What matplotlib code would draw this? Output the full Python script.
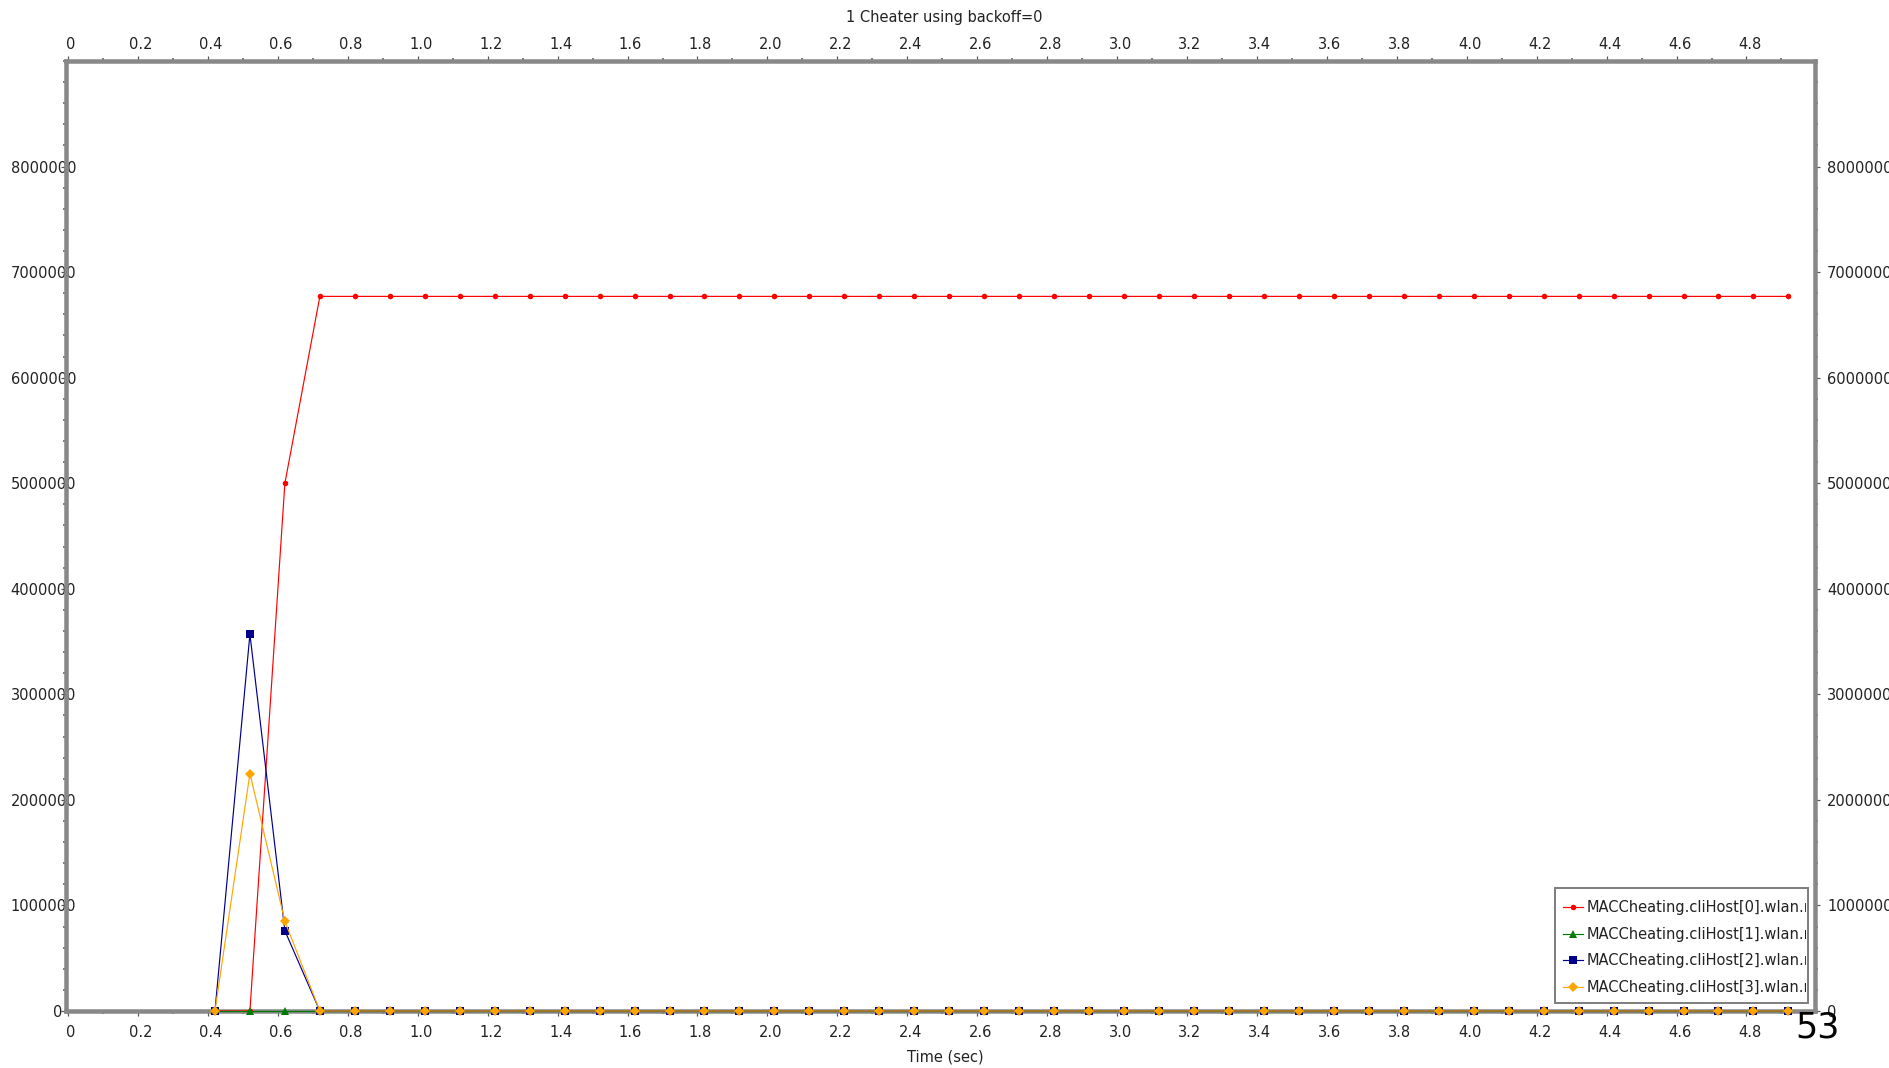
import matplotlib
matplotlib.use('Agg')
import matplotlib.pyplot as plt
from matplotlib.patches import Rectangle
from matplotlib.ticker import MultipleLocator, FixedLocator
from matplotlib.transforms import Bbox, TransformedBbox, ScaledTranslation

TITLE = '1 Cheater using backoff=0'
XLABEL = 'Time (sec)'

# sample times (sec)
TIMES = [
    0.42, 0.52, 0.62, 0.72, 0.82, 0.92, 1.02, 1.12, 1.22, 1.32,
    1.42, 1.52, 1.62, 1.72, 1.82, 1.92, 2.02, 2.12, 2.22, 2.32,
    2.42, 2.52, 2.62, 2.72, 2.82, 2.92, 3.02, 3.12, 3.22, 3.32,
    3.42, 3.52, 3.62, 3.72, 3.82, 3.92, 4.02, 4.12, 4.22, 4.32,
    4.42, 4.52, 4.62, 4.72, 4.82, 4.92,
]
HOST0 = [0, 0, 5000000] + [6770000] * 43
HOST1 = [0] * 46
HOST2 = [0, 3570000, 760000] + [0] * 43
HOST3 = [0, 2250000, 850000] + [0] * 43

LABELS = [
    'MACCheating.cliHost[0].wlan.mac',
    'MACCheating.cliHost[1].wlan.mac',
    'MACCheating.cliHost[2].wlan.mac',
    'MACCheating.cliHost[3].wlan.mac',
]
X_TICKS = [0, 0.2, 0.4, 0.6, 0.8, 1.0, 1.2, 1.4, 1.6, 1.8, 2.0, 2.2, 2.4,
           2.6, 2.8, 3.0, 3.2, 3.4, 3.6, 3.8, 4.0, 4.2, 4.4, 4.6, 4.8]
X_TICKLABELS = ['0'] + [f'{v:.1f}' for v in X_TICKS[1:]]
Y_TICKS = [0, 1000000, 2000000, 3000000, 4000000,
           5000000, 6000000, 7000000, 8000000]
Y_TICKLABELS = [str(v) for v in Y_TICKS]

STYLES = [
    ('#ff0000', 'o', 4.0),
    ('#007a00', '^', 5.8),
    ('#00008c', 's', 5.4),
    ('#ffa500', 'D', 4.8),
]

W, H = 1889, 1068
DPI = 100
FS = 10.5
SPINE = '#888888'


def px(v):
    # pixels -> points
    return v * 72 / DPI


def shift(fig, dx, dy):
    return ScaledTranslation(dx / DPI, dy / DPI, fig.dpi_scale_trans)


def main():
    fig = plt.figure(figsize=(W / DPI, H / DPI), dpi=DPI)
    ax = fig.add_axes([66 / W, 57 / H, (1815 - 66) / W, (1011 - 61) / H])

    series = [HOST0, HOST1, HOST2, HOST3]
    lines = []
    for vals, lab, (col, mk, ms) in zip(series, LABELS, STYLES):
        ln, = ax.plot(TIMES, vals, color=col, lw=0.85, marker=mk,
                      markersize=ms, markeredgewidth=0, label=lab,
                      clip_on=False, zorder=3)
        lines.append(ln)

    ax.set_xlim(-0.006, 4.996)
    ax.set_ylim(0, 9000000)

    ax.xaxis.set_major_locator(FixedLocator(X_TICKS))
    ax.set_xticklabels(X_TICKLABELS)
    ax.xaxis.set_minor_locator(MultipleLocator(0.1))
    ax.yaxis.set_major_locator(FixedLocator(Y_TICKS))
    ax.set_yticklabels(Y_TICKLABELS)
    ax.yaxis.set_minor_locator(MultipleLocator(200000))

    for sp in ax.spines.values():
        sp.set_color(SPINE)
        sp.set_linewidth(px(4.5))
        sp.set_zorder(2.6)

    ax.tick_params(which='both', direction='out', colors='#555555',
                   labelcolor='#222222', labelsize=FS,
                   top=True, right=True, labeltop=True, labelright=True)
    ax.tick_params(which='major', length=px(5), width=px(1.2))
    ax.tick_params(which='minor', length=px(3), width=px(1.5))
    ax.tick_params(axis='y', which='major', pad=px(7))
    # x labels sit a little right of their ticks in the original
    for t in ax.xaxis.get_major_ticks():
        t.set_pad(px(9))
        t.label1.set_transform(t.label1.get_transform() + shift(fig, 3, 0))
        t.label2.set_transform(t.label2.get_transform() + shift(fig, 3, -5))
    # left labels overflow past the spine, as in the original renderer
    for i, t in enumerate(ax.yaxis.get_major_ticks()):
        dx = 22 if i > 0 else 8
        t.label1.set_transform(t.label1.get_transform() + shift(fig, dx, 0))

    ax.set_title(TITLE, fontsize=FS, y=(1068 - 22 - 57) / 950, pad=0,
                 x=0.502, color='#222222')
    ax.set_xlabel(XLABEL, fontsize=FS, color='#222222')
    ax.xaxis.set_label_coords(0.503, (1068 - 1050 - 57) / 950)

    # legend, its frame cuts the long labels
    leg = ax.legend(handles=lines, loc='upper left',
                    bbox_to_anchor=(1563 / W, 1 - 900 / H),
                    bbox_transform=fig.transFigure, frameon=False,
                    fontsize=FS, borderpad=0, borderaxespad=0,
                    handlelength=1.35, handletextpad=0.25,
                    labelspacing=0.8)
    leg.set_zorder(6)
    frame = Rectangle((1555 / W, 1 - 1003 / H), 253 / W, 115 / H,
                      transform=fig.transFigure, facecolor='white',
                      edgecolor='#808080', lw=px(2), zorder=5,
                      clip_on=False)
    ax.add_patch(frame)
    clip = TransformedBbox(Bbox.from_extents(1555 / W, 1 - 1003 / H,
                                             1806 / W, 1 - 888 / H),
                           fig.transFigure)
    for txt in leg.get_texts():
        txt.set_color('#222222')
        txt.set_clip_box(clip)
        txt.set_clip_on(True)

    fig.text(1818 / W, 1 - 1027 / H, '53', fontsize=px(35),
             family=['Liberation Sans Narrow', 'DejaVu Sans'],
             ha='center', va='center', color='black')

    fig.savefig('out.png', dpi=DPI)


if __name__ == '__main__':
    main()
